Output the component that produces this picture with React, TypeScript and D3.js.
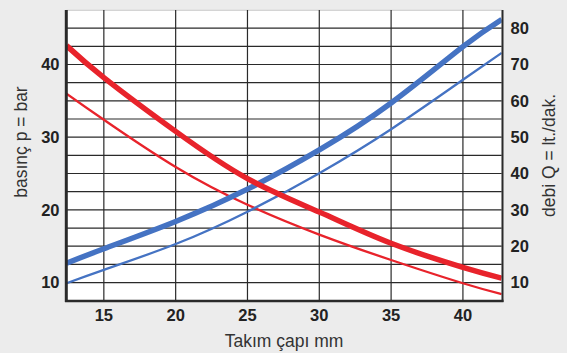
import React from "react";
import * as d3 from "d3";

const diameters = [12.4, 15, 20, 25, 30, 35, 40, 42.7];
const pressureThick = [42.6, 38.2, 30.8, 24.3, 19.7, 15.4, 12.1, 10.6];
const pressureThin = [36.0, 32.4, 25.9, 20.7, 16.6, 13.1, 9.9, 8.4];
const flowThick = [15.3, 19.3, 26.8, 35.7, 46.5, 59.4, 74.9, 82.4];
const flowThin = [9.8, 13.5, 20.6, 29.5, 40.1, 52.2, 65.8, 73.2];

const xTicks = [15, 20, 25, 30, 35, 40];
const leftTicks = [10, 20, 30, 40];
const rightTicks = [10, 20, 30, 40, 50, 60, 70, 80];
const gridLeft = [10, 12.5, 15, 17.5, 20, 22.5, 25, 27.5, 30, 32.5, 35, 37.5, 40, 42.5, 45];

const xTitle = "Takım çapı mm";
const leftTitle = "basınç p = bar";
const rightTitle = "debi Q = lt./dak.";

const W = 567;
const H = 353;
const L = 66.5;
const R = 501.7;
const T = 10;
const B = 300.7;

const RED = "#e8232b";
const BLUE = "#4573c3";
const FONT = "'Liberation Sans', Arial, Helvetica, sans-serif";

export default function App() {
  const x = d3.scaleLinear().domain([12.4, 42.7]).range([L, R]);
  const yL = d3.scaleLinear().domain([7.5, 47.5]).range([B, T]);
  const yR = d3.scaleLinear().domain([5, 85]).range([B, T]);

  const lineL = d3
    .line<[number, number]>()
    .x((d) => x(d[0]))
    .y((d) => yL(d[1]))
    .curve(d3.curveNatural);
  const lineR = d3
    .line<[number, number]>()
    .x((d) => x(d[0]))
    .y((d) => yR(d[1]))
    .curve(d3.curveNatural);

  const zip = (vals: number[]) => diameters.map((d, i) => [d, vals[i]] as [number, number]);

  return (
    <svg
      width={W}
      height={H}
      style={{ position: "absolute", left: 0, top: 0, display: "block" }}
      fontFamily={FONT}
    >
      <rect x={0} y={0} width={W} height={H} fill="#ececec" />
      <defs>
        <clipPath id="plotclip">
          <rect x={L} y={T} width={R - L} height={B - T} />
        </clipPath>
      </defs>
      <rect x={L} y={T} width={R - L} height={B - T} fill="#ffffff" />
      <line x1={L} x2={R} y1={T + 0.3} y2={T + 0.3} stroke="#bbb" strokeWidth={0.8} />
      {gridLeft.map((v) => (
        <line key={"h" + v} x1={L} x2={R} y1={yL(v)} y2={yL(v)} stroke="#2a2a2a" strokeWidth={1.2} />
      ))}
      {xTicks.map((v) => (
        <line key={"v" + v} x1={x(v)} x2={x(v)} y1={T} y2={B} stroke="#2a2a2a" strokeWidth={1.2} />
      ))}
      <g clipPath="url(#plotclip)" fill="none" strokeLinecap="butt">
        <path d={lineL(zip(pressureThin)) || ""} stroke={RED} strokeWidth={2.3} />
        <path d={lineR(zip(flowThin)) || ""} stroke={BLUE} strokeWidth={2.3} />
        <path d={lineR(zip(flowThick)) || ""} stroke={BLUE} strokeWidth={5.5} />
        <path d={lineL(zip(pressureThick)) || ""} stroke={RED} strokeWidth={5.5} />
      </g>
      <line x1={66.3} x2={66.3} y1={T} y2={B + 1.2} stroke="#2a2a2a" strokeWidth={3} />
      <line x1={502.5} x2={502.5} y1={T} y2={B + 1.2} stroke="#2a2a2a" strokeWidth={2} />
      <line x1={65} x2={503.5} y1={B + 0.3} y2={B + 0.3} stroke="#2a2a2a" strokeWidth={2.4} />

      {leftTicks.map((v) => (
        <text key={"lt" + v} x={59.5} y={yL(v)} dy="0.36em" textAnchor="end" fontSize={16.5} fontWeight="bold" fill="#222">
          {v}
        </text>
      ))}
      {rightTicks.map((v) => (
        <text key={"rt" + v} x={510.5} y={yR(v)} dy="0.36em" textAnchor="start" fontSize={16.5} fontWeight="bold" fill="#222">
          {v}
        </text>
      ))}
      {xTicks.map((v) => (
        <text key={"xt" + v} x={x(v)} y={320.5} textAnchor="middle" fontSize={16.5} fontWeight="bold" fill="#222">
          {v}
        </text>
      ))}
      <text x={284} y={346.5} textAnchor="middle" fontSize={17.5} fill="#333">
        {xTitle}
      </text>
      <text transform="translate(26.5,142) rotate(-90)" textAnchor="middle" fontSize={17.5} fill="#333">
        {leftTitle}
      </text>
      <text transform="translate(554.5,155.5) rotate(-90)" textAnchor="middle" fontSize={17.5} fill="#333">
        {rightTitle}
      </text>
    </svg>
  );
}
